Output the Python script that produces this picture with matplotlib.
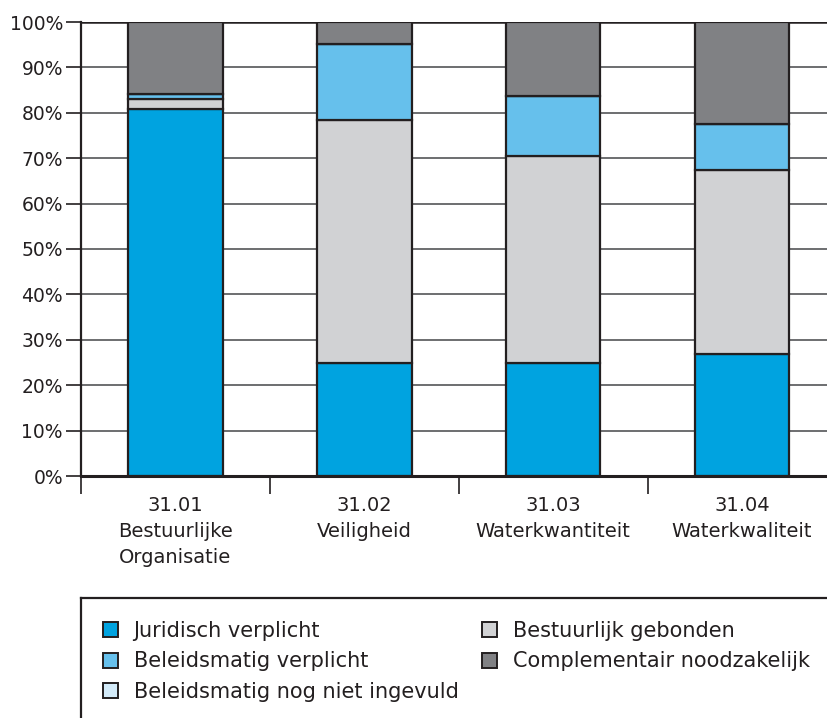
import matplotlib
matplotlib.use("Agg")
import matplotlib.pyplot as plt
import numpy as np
from matplotlib.lines import Line2D
from matplotlib.patches import Patch

plt.rcParams['font.family'] = ['DejaVu Sans']

categories = ["31.01\nBestuurlijke\nOrganisatie", "31.02\nVeiligheid",
              "31.03\nWaterkwantiteit", "31.04\nWaterkwaliteit"]
juridisch = [80.8, 25.0, 25.0, 26.9]
bestuurlijk = [2.2, 53.4, 45.5, 40.5]
beleid_verplicht = [1.2, 16.8, 13.2, 10.1]
beleid_nog_niet = [0.0, 0.0, 0.0, 0.0]
complementair = [15.8, 4.8, 16.3, 22.5]

series = [
    ("Juridisch verplicht", juridisch, "#00a3e0"),
    ("Bestuurlijk gebonden", bestuurlijk, "#d1d2d4"),
    ("Beleidsmatig verplicht", beleid_verplicht, "#66c0ec"),
    ("Beleidsmatig nog niet ingevuld", beleid_nog_niet, "#d3ebf9"),
    ("Complementair noodzakelijk", complementair, "#808184"),
]
edge = "#231f20"
txt = "#231f20"

W, H = 828, 718
fig = plt.figure(figsize=(W / 100, H / 100), dpi=100)
ax = fig.add_axes([81 / W, 1 - 476 / H, 1 - 81 / W, (476 - 22) / H])

x = np.arange(len(categories))
bottom = np.zeros(len(categories))
for name, vals, col in series:
    v = np.array(vals)
    ax.bar(x, v, 0.5, bottom=bottom, color=col, edgecolor=edge, linewidth=1.6, zorder=3)
    bottom += v

ax.set_xlim(-0.5, 3.455)
ax.set_ylim(0, 100)
ax.set_yticks(np.arange(0, 101, 10))
ax.set_yticklabels([f"{t}%" for t in range(0, 101, 10)], fontsize=13.5, color=txt)
for t in range(10, 100, 10):
    ax.axhline(t, color="#6d6e70", linewidth=1.4, zorder=1)
ax.axhline(100, color=edge, linewidth=1.8, zorder=1)

ax.set_xticks([-0.5, 0.5, 1.5, 2.5])
ax.set_xticklabels([])
ax.tick_params(axis='x', length=13, width=1.2, color=edge, direction='out')
ax.tick_params(axis='y', length=11, width=1.2, color=edge, direction='out', pad=2)
for i, c in enumerate(categories):
    ax.text(i, -4.5, c, ha='center', va='top', fontsize=14, color=txt,
            linespacing=1.45, transform=ax.transData)

for s in ['top', 'right']:
    ax.spines[s].set_visible(False)
ax.spines['left'].set_linewidth(1.6)
ax.spines['left'].set_color(edge)
ax.spines['bottom'].set_linewidth(2.2)
ax.spines['bottom'].set_color(edge)
ax.spines['bottom'].set_zorder(4)

# legend box (left and top edges visible)
fig.add_artist(Line2D([81 / W, 81 / W], [1 - 598 / H, 0], color=edge, linewidth=1.6))
fig.add_artist(Line2D([81 / W, 1], [1 - 598 / H, 1 - 598 / H], color=edge, linewidth=1.6))

cols = [([0, 2, 3], 103), ([1, 4], 482)]
for idxs, xpos in cols:
    handles = [Patch(facecolor=series[i][2], edgecolor=edge, linewidth=1.4) for i in idxs]
    labels = [series[i][0] for i in idxs]
    leg = fig.legend(handles, labels, ncol=1, loc='upper left',
                     bbox_to_anchor=(xpos / W, 1 - 621 / H), frameon=False, fontsize=15,
                     handlelength=0.72, handleheight=0.72, handletextpad=0.75,
                     labelspacing=0.5, borderpad=0, borderaxespad=0)
    for t in leg.get_texts():
        t.set_color(txt)

fig.savefig("out.png", dpi=100)
